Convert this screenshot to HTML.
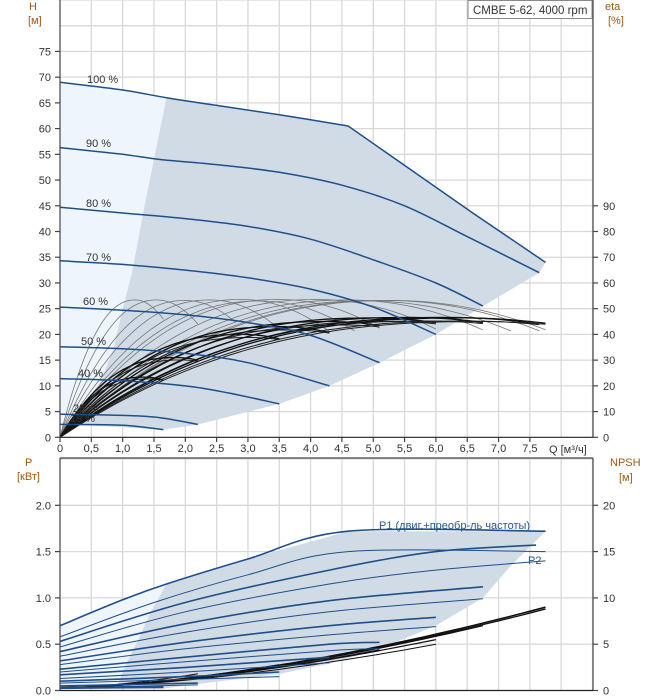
<!DOCTYPE html>
<html><head><meta charset="utf-8"><style>
html,body{margin:0;padding:0;background:#fff;}
svg{display:block;font-family:"Liberation Sans",sans-serif;}
.t{font-size:11px;fill:#333;}
.u{font-size:11px;fill:#a05a10;}
</style></head><body>
<svg id="s" width="658" height="700" viewBox="0 0 658 700" xmlns="http://www.w3.org/2000/svg">
<rect width="658" height="700" fill="#fff"/>
<g id="grid" stroke="#d9d9d9" stroke-width="1.3"></g>
<g id="shade"></g>
<g id="curves" fill="none"></g>
<g id="axes" stroke="#444" stroke-width="1.2">
<line x1="60" y1="0" x2="60" y2="437.3"/>
<line x1="593" y1="0" x2="593" y2="437.3"/>
<line x1="60" y1="437.3" x2="593" y2="437.3" stroke="#222"/>
<line x1="60" y1="458" x2="60" y2="690.5"/>
<line x1="593" y1="458" x2="593" y2="690.5"/>
<line x1="60" y1="458" x2="593" y2="458"/>
<line x1="60" y1="690.5" x2="593" y2="690.5" stroke="#222"/>
</g>
<g id="labels"></g>
<rect x="468" y="0.5" width="124" height="18" fill="#fff" stroke="#888" stroke-width="1"/>
<text x="473" y="14" class="t" style="font-size:11.5px">CMBE 5-62, 4000 rpm</text>
<text x="29" y="10" class="u">H</text>
<text x="28" y="24" class="u">[м]</text>
<text x="605" y="10" class="u">eta</text>
<text x="608" y="24" class="u">[%]</text>
<text x="25" y="466" class="u">P</text>
<text x="17" y="480" class="u">[кВт]</text>
<text x="610" y="466" class="u">NPSH</text>
<text x="619" y="481" class="u">[м]</text>
<text x="549" y="453" class="t">Q [м³/ч]</text>
<text x="379" y="529" class="t" fill="#2a5590" style="fill:#2a5590">P1 (двиг.+преобр-ль частоты)</text>
<text x="528" y="564" class="t" style="fill:#2a5590">P2</text>
<text x="87" y="83" class="t">100 %</text>
<text x="86" y="147" class="t">90 %</text>
<text x="86" y="207" class="t">80 %</text>
<text x="86" y="261" class="t">70 %</text>
<text x="83" y="305" class="t">60 %</text>
<text x="81" y="345" class="t">50 %</text>
<text x="78" y="377" class="t">40 %</text>
<text x="73" y="412" class="t">25 %</text>
<text x="70" y="422" class="t">19 %</text>
</svg>
<script>
const NS="http://www.w3.org/2000/svg";
const X=q=>60+q*62.65, YH=h=>437.3-h*5.145, YP=p=>690.5-p*92.6;
function el(g,tag,a){const e=document.createElementNS(NS,tag);for(const k in a)e.setAttribute(k,a[k]);document.getElementById(g).appendChild(e);return e;}
function txt(x,y,s,anchor){const e=el('labels','text',{x:x,y:y,class:'t','text-anchor':anchor||'start'});e.textContent=s;}
// grid
for(let i=1;i<=17;i++){const x=X(i*0.5);el('grid','line',{x1:x,y1:0,x2:x,y2:437.3});el('grid','line',{x1:x,y1:458,x2:x,y2:690.5});}
for(let h=5;h<=85;h+=5){el('grid','line',{x1:60,y1:YH(h),x2:593,y2:YH(h)});}
for(let p=0.5;p<=2.5;p+=0.5){el('grid','line',{x1:60,y1:YP(p),x2:593,y2:YP(p)});}
// labels
for(let h=0;h<=75;h+=5){txt(51,YH(h)+4,String(h),'end');el('axes','line',{x1:55,y1:YH(h),x2:60,y2:YH(h)});}
for(let e=0;e<=90;e+=10){txt(603,YH(e/2)+4,String(e));el('axes','line',{x1:593,y1:YH(e/2),x2:598,y2:YH(e/2)});}
for(let i=0;i<=15;i++){const q=i*0.5;txt(X(q),452,i==0?'0':q.toFixed(1).replace('.',','),'middle');el('axes','line',{x1:X(q),y1:437.3,x2:X(q),y2:442});}
for(let p=0;p<=2.0;p+=0.5){txt(51,YP(p)+4,p.toFixed(1),'end');el('axes','line',{x1:55,y1:YP(p),x2:60,y2:YP(p)});}
for(let n=0;n<=20;n+=5){txt(603,YP(n/10)+4,String(n));el('axes','line',{x1:593,y1:YP(n/10),x2:598,y2:YP(n/10)});}
// spline
function path(pts){let d='M'+pts[0][0].toFixed(1)+','+pts[0][1].toFixed(1);
for(let i=0;i<pts.length-1;i++){const p0=pts[Math.max(0,i-1)],p1=pts[i],p2=pts[i+1],p3=pts[Math.min(pts.length-1,i+2)];
const c1=[p1[0]+(p2[0]-p0[0])/6,p1[1]+(p2[1]-p0[1])/6],c2=[p2[0]-(p3[0]-p1[0])/6,p2[1]-(p3[1]-p1[1])/6];
d+='C'+c1.map(v=>v.toFixed(1))+' '+c2.map(v=>v.toFixed(1))+' '+p2.map(v=>v.toFixed(1));}return d;}
const H=a=>a.map(p=>[X(p[0]),YH(p[1])]), P=a=>a.map(p=>[X(p[0]),YP(p[1])]);
// head curves
const heads=[
[[0,69],[1,67.5],[1.7,66],[2.5,64.5],[3.5,62.7],[4.6,60.5]],
[[0,56.3],[1,55],[1.6,54],[2.5,53],[3.5,51.5],[4.5,49],[5.5,45],[6.5,39],[7.65,32]],
[[0,44.7],[1,43.6],[2,42.5],[3,41],[4,38.5],[5,34.5],[6,30],[6.75,25.5]],
[[0,34.3],[1,33.6],[2,32.5],[3,31],[4,28.8],[5,25.3],[6,20]],
[[0,25.3],[1,24.7],[2,23.8],[3,22.3],[4,19.8],[5.1,14.5]],
[[0,17.6],[1,17.2],[2,16.3],[3,14.5],[4.3,10]],
[[0,11.4],[1,11],[2,10],[2.7,8.6],[3.5,6.5]],
[[0,4.5],[1,4.25],[1.6,3.8],[2.2,2.5]],
[[0,2.5],[1,2.35],[1.65,1.5]]];
const qend=[7.75,7.65,6.75,6,5.1,4.3,3.5,2.2,1.65];
// shading top
const leftB=[[1.7,66],[1.35,45],[1.15,32],[1.0,25],[0.85,17],[0.65,11],[0.45,5],[0.3,2.4]];
const lowB=[[1.65,1.5],[2.2,2.5],[3.5,6.5],[4.3,10],[5.1,14.5],[6,20],[6.75,25.5],[7.65,32],[7.75,34]];
const h100=heads[0];
let light=[[0,69],[1,67.5],[1.7,66]].concat(leftB).concat([[1,2.35],[0,2.5]]);
el('shade','path',{d:'M'+H(light).map(p=>p.join(',')).join('L')+'Z',fill:'#eef5fc'});
let dark=[[1.7,66],[2.5,64.5],[3.5,62.7],[4.6,60.5],[7.75,34]].concat(lowB.slice().reverse()).concat(leftB.slice().reverse());
el('shade','path',{d:'M'+H(dark).map(p=>p.join(',')).join('L')+'Z',fill:'#d0dbe6'});
// efficiency curves (top)
function eff(Qp,pk,Qe,steep){const a=[];for(let q=0;q<=Qe+1e-6;q+=Qe/30){const u=q/Qp;let v=pk*(1-Math.pow(1-u,2));if(q<Qp)v=pk*(1-Math.pow(1-u,steep||2));a.push([q,Math.max(0,v)]);}return a;}
const grays=[[1.2,26.7,1.65],[1.55,26.7,2.2],[2.4,26.7,3.5],[2.9,26.8,4.3],[3.5,26.8,5.1],[4.1,26.8,6.0],[4.6,26.7,6.75],[5.2,26.6,7.65],[5.3,26.6,7.75],[4.9,26.5,7.2],[3.2,26.5,4.7],[2.0,26.6,2.8]];
grays.forEach(g=>el('curves','path',{d:path(H(eff(g[0],g[1],g[2],2.2))),stroke:'#777',"stroke-width":0.8}));
const blacks=[[1.35,11.7,1.65],[1.85,15.5,2.2],[2.9,20,3.5],[3.5,21.5,4.3],[4.3,22.5,5.1],[5.0,23.2,6.0],[5.6,23.3,6.75],[6.2,23.3,7.65],[6.4,23.2,7.75]];
blacks.forEach(g=>{el('curves','path',{d:path(H(eff(g[0],g[1],g[2],2.4))),stroke:'#111',"stroke-width":1.3});
el('curves','path',{d:path(H(eff(g[0]*1.05,g[1]*0.97,g[2],2.4))),stroke:'#222',"stroke-width":1});});
heads.forEach((h,i)=>{el('curves','path',{d:path(H(h)),stroke:'#1f4f8a',"stroke-width":1.5});});
el('curves','path',{d:'M'+X(4.6)+','+YH(60.5)+'L'+X(5.6)+','+YH(52)+'L'+X(6.6)+','+YH(43.5)+'L'+X(7.75)+','+YH(34),stroke:'#1f4f8a',"stroke-width":1.5});
// bottom shading
const pl=[[0,0.7],[0.5,0.85],[1,0.98],[1.7,1.15],[1.45,0.85],[1.25,0.55],[1.1,0.35],[1.0,0.2],[0.9,0.05],[0,0.02]];
el('shade','path',{d:'M'+P(pl).map(p=>p.join(',')).join('L')+'Z',fill:'#eef5fc'});
const pd=[[1.7,1.15],[3,1.42],[4.6,1.72],[7.75,1.72],[7.2,1.35],[6.75,1.0],[6,0.7],[5.1,0.45],[4.3,0.29],[3.5,0.18],[2.2,0.07],[1.65,0.02],[0.9,0.02],[1.0,0.2],[1.1,0.35],[1.25,0.55],[1.45,0.85]];
el('shade','path',{d:'M'+P(pd).map(p=>p.join(',')).join('L')+'Z',fill:'#d0dbe6'});
// NPSH
[[7.75,0.9,1.6],[7.75,0.88,1.3],[6.75,0.7,1.2],[6.0,0.55,1.2],[6.0,0.5,1.0],[5.1,0.44,1.0],[4.3,0.36,1],[3.5,0.28,1],[2.2,0.18,1],[1.65,0.1,1]].forEach(n=>{
const a=[];for(let q=0;q<=n[0]+1e-6;q+=n[0]/20)a.push([q,0.03+(n[1]-0.03)*Math.pow(q/n[0],1.6)]);
el('curves','path',{d:path(P(a)),stroke:'#111',"stroke-width":n[2]});});
// power curves
const pw=[
[[0,0.7],[1,0.98],[1.7,1.15],[3,1.42],[4.6,1.72],[7.75,1.72]],
[[0,0.58],[1.5,0.95],[3,1.25],[4.6,1.5],[7.75,1.5]],
[[0,0.53],[2,0.95],[4.3,1.3],[6,1.5],[7.6,1.57]],
[[0,0.47],[2,0.85],[4.3,1.15],[6,1.3],[7.75,1.4]],
[[0,0.42],[2,0.72],[4.3,0.97],[6.75,1.12]],
[[0,0.37],[2,0.63],[4.3,0.85],[6.75,0.99]],
[[0,0.32],[2,0.52],[4.3,0.7],[6,0.79]],
[[0,0.28],[2,0.45],[4.3,0.6],[6,0.69]],
[[0,0.23],[2,0.36],[4.3,0.5],[5.1,0.52]],
[[0,0.2],[2,0.31],[4.3,0.43],[5.1,0.45]],
[[0,0.17],[2,0.25],[4.3,0.36]],
[[0,0.13],[2,0.2],[4.3,0.3]],
[[0,0.1],[2,0.15],[3.5,0.2]],
[[0,0.08],[2,0.12],[3.5,0.15]],
[[0,0.05],[2.2,0.08]],[[0,0.03],[2.2,0.06]],[[0,0.03],[1.65,0.04]],[[0,0.02],[1.65,0.03]]];
pw.forEach((p,i)=>el('curves','path',{d:path(P(p)),stroke:'#1f4f8a',"stroke-width":i%2?1:1.6}));
</script>
</body></html>
